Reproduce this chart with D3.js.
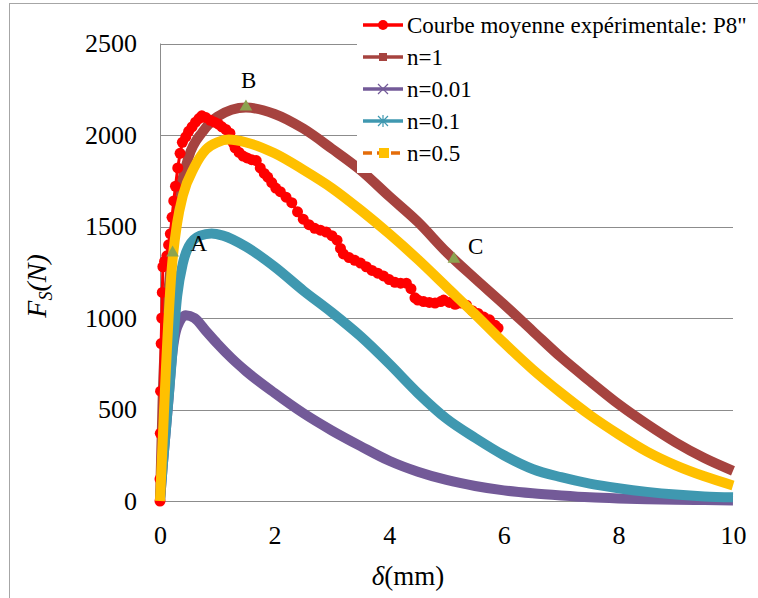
<!DOCTYPE html>
<html>
<head>
<meta charset="utf-8">
<script src="https://cdn.jsdelivr.net/npm/d3@7"></script>
<style>
  body { margin: 0; background: #fff; }
  svg text { font-family: "Liberation Serif", "Times New Roman", serif !important; }
</style>
</head>
<body>
<div id="chart"></div>
<script>
// tick labels
var xTicks = [0, 2, 4, 6, 8, 10];
var yTicks = [0, 500, 1000, 1500, 2000, 2500];

// experimental mean curve (delta mm, force N)
var expX = [0, 0, 0.005, 0.01, 0.02, 0.03, 0.04, 0.05, 0.08, 0.12, 0.15, 0.18, 0.21, 0.24, 0.27, 0.31, 0.35, 0.39, 0.45, 0.5,
  0.56, 0.62, 0.68, 0.73, 0.8, 0.88, 0.95, 1.02, 1.08, 1.15, 1.22, 1.27, 1.31, 1.38, 1.45, 1.52, 1.6, 1.68, 1.75, 1.82,
  1.88, 1.95, 2.02, 2.1, 2.2, 2.3, 2.4, 2.5, 2.6, 2.7, 2.8, 2.9, 3.0, 3.09, 3.15, 3.2, 3.3, 3.4, 3.5, 3.6,
  3.7, 3.8, 3.9, 4.0, 4.1, 4.2, 4.3, 4.38, 4.45, 4.5, 4.6, 4.7, 4.8, 4.9, 4.95, 5.05, 5.15, 5.25, 5.35, 5.45,
  5.55, 5.65, 5.75, 5.85, 5.9];
var expF = [0, 120, 370, 600, 860, 1000, 1140, 1280, 1310, 1340, 1400, 1460, 1550, 1640, 1720, 1820, 1900, 1960, 1990, 2020,
  2045, 2070, 2090, 2105, 2095, 2080, 2070, 2060, 2045, 2030, 2010, 1960, 1930, 1905, 1885, 1875, 1865, 1860, 1820, 1790,
  1770, 1740, 1710, 1690, 1660, 1630, 1580, 1540, 1510, 1490, 1480, 1470, 1450, 1425, 1380, 1350, 1330, 1315, 1300, 1280,
  1260, 1245, 1230, 1210, 1195, 1190, 1190, 1160, 1110, 1098, 1090, 1085, 1082, 1090, 1098, 1085, 1075, 1082, 1070, 1040,
  1025, 1005, 990, 960, 945];

// model curves
var n1X = [0, 0.05, 0.1, 0.2, 0.3, 0.5, 0.75, 1.0, 1.5, 2.0, 2.5, 3, 3.5, 4, 4.5, 5, 5.5, 6, 6.5, 7, 7.5, 8, 8.5, 9, 9.5, 10];
var n1F = [0, 600, 950, 1320, 1600, 1880, 2020, 2100, 2150, 2115, 2035, 1925, 1808, 1665, 1525, 1360, 1215, 1075, 930, 785, 655, 530, 420, 320, 235, 165];

var n001X = [0, 0.05, 0.1, 0.15, 0.2, 0.3, 0.45, 0.6, 0.8, 1.0, 1.25, 1.5, 2, 2.5, 3, 3.5, 4, 4.5, 5, 5.5, 6, 6.5, 7, 7.5, 8, 8.5, 9, 9.5, 10];
var n001F = [0, 200, 380, 560, 760, 950, 1015, 1000, 930, 860, 780, 710, 590, 480, 385, 300, 220, 160, 115, 82, 58, 42, 30, 20, 14, 10, 7, 5, 3];

var n01X = [0, 0.05, 0.1, 0.2, 0.3, 0.4, 0.5, 0.7, 0.9, 1.1, 1.5, 2, 2.5, 3, 3.5, 4, 4.5, 5, 5.5, 6, 6.5, 7, 7.5, 8, 8.5, 9, 9.5, 10];
var n01F = [0, 200, 380, 750, 1120, 1300, 1390, 1450, 1462, 1450, 1390, 1280, 1150, 1030, 900, 750, 590, 450, 345, 250, 175, 130, 95, 70, 50, 35, 25, 20];

var n05X = [0, 0.05, 0.1, 0.2, 0.3, 0.4, 0.6, 0.8, 1.0, 1.2, 1.5, 2, 2.5, 3, 3.5, 4, 4.5, 5, 5.5, 6, 6.5, 7, 7.5, 8, 8.5, 9, 9.5, 10];
var n05F = [0, 350, 700, 1250, 1520, 1670, 1825, 1920, 1960, 1975, 1960, 1900, 1810, 1710, 1590, 1460, 1320, 1170, 1020, 865, 720, 590, 470, 365, 270, 195, 135, 85];

// marked points A, B, C
var ptLabels = ["A", "B", "C"];
var ptX = [0.22, 1.5, 5.13];
var ptF = [1350, 2148, 1317];

var legendNames = ["Courbe moyenne expérimentale: P8\"", "n=1", "n=0.01", "n=0.1", "n=0.5"];

function init() {
    var w = 758;
    var h = 598;
    var serif = "'Liberation Serif', 'Times New Roman', serif";

    var svg = d3.select("#chart")
        .append("svg")
        .attr("width", w)
        .attr("height", h)
        .style("font-family", serif);

    // outer frame
    svg.append("rect")
        .attr("x", 9.5).attr("y", 3.5)
        .attr("width", w).attr("height", h)
        .attr("fill", "none")
        .attr("stroke", "#a6a6a6");

    var xScale = d3.scaleLinear().domain([0, 10]).range([160, 733]);
    var yScale = d3.scaleLinear().domain([0, 2500]).range([501, 43.5]);

    // gridlines
    svg.append("g").selectAll("line")
        .data(yTicks.filter(function(d) { return d > 0; }))
        .enter().append("line")
        .attr("x1", xScale(0)).attr("x2", xScale(10))
        .attr("y1", function(d) { return Math.round(yScale(d)) + 0.5; })
        .attr("y2", function(d) { return Math.round(yScale(d)) + 0.5; })
        .attr("stroke", "#8c8c8c");

    // axes lines
    svg.append("line")
        .attr("x1", xScale(0)).attr("x2", xScale(10))
        .attr("y1", Math.round(yScale(0)) + 0.5).attr("y2", Math.round(yScale(0)) + 0.5)
        .attr("stroke", "#8c8c8c");
    svg.append("line")
        .attr("x1", xScale(0) + 0.5).attr("x2", xScale(0) + 0.5)
        .attr("y1", yScale(2500)).attr("y2", yScale(0))
        .attr("stroke", "#8c8c8c");

    // tick labels via axes
    var xAxis = d3.axisBottom(xScale).tickValues(xTicks).tickFormat(d3.format("d")).tickSize(0).tickPadding(25);
    var gx = svg.append("g")
        .attr("transform", "translate(0," + yScale(0) + ")")
        .call(xAxis);
    var yAxis = d3.axisLeft(yScale).tickValues(yTicks).tickFormat(d3.format("d")).tickSize(0).tickPadding(23);
    var gy = svg.append("g")
        .attr("transform", "translate(" + xScale(0) + ",0)")
        .call(yAxis);
    [gx, gy].forEach(function(g) {
        g.attr("font-family", null).attr("font-size", null);
        g.select(".domain").remove();
        g.selectAll("text")
            .style("font-family", serif)
            .style("font-size", "26px")
            .attr("fill", "#000");
    });

    function series(xs, fs) {
        return xs.map(function(x, i) { return { x: x, f: fs[i] }; });
    }

    var smooth = d3.line()
        .x(function(d) { return xScale(d.x); })
        .y(function(d) { return yScale(d.f); })
        .curve(d3.curveMonotoneX);
    var straight = d3.line()
        .x(function(d) { return xScale(d.x); })
        .y(function(d) { return yScale(d.f); });

    function drawCurve(data, color) {
        svg.append("path")
            .datum(data)
            .attr("d", smooth)
            .attr("fill", "none")
            .attr("stroke", color)
            .attr("stroke-width", 10)
            .attr("stroke-linecap", "butt");
    }

    drawCurve(series(n001X, n001F), "#735a98");
    drawCurve(series(n01X, n01F), "#3f98b0");
    drawCurve(series(n1X, n1F), "#a6433f");

    // experimental curve
    var exp = series(expX, expF);
    svg.append("path")
        .datum(exp)
        .attr("d", straight)
        .attr("fill", "none")
        .attr("stroke", "#ff0000")
        .attr("stroke-width", 3);
    svg.append("g").selectAll("circle")
        .data(exp)
        .enter().append("circle")
        .attr("cx", function(d) { return xScale(d.x); })
        .attr("cy", function(d) { return yScale(d.f); })
        .attr("r", 5.5)
        .attr("fill", "#ff0000");

    drawCurve(series(n05X, n05F), "#ffc000");

    // triangles A B C
    var tri = d3.symbol().type(d3.symbolTriangle).size(70);
    var labelDx = [18, -5, 14];
    var labelDy = [-3, -20, -6];
    ptLabels.forEach(function(lab, i) {
        svg.append("path")
            .attr("d", tri)
            .attr("transform", "translate(" + xScale(ptX[i]) + "," + (yScale(ptF[i]) - 1) + ")")
            .attr("fill", "#8ca34f");
        svg.append("text")
            .attr("x", xScale(ptX[i]) + labelDx[i])
            .attr("y", yScale(ptF[i]) + labelDy[i])
            .style("font-size", "23px")
            .attr("fill", "#000")
            .text(lab);
    });

    // legend
    var lg = svg.append("g");
    lg.append("rect")
        .attr("x", 357).attr("y", 5)
        .attr("width", 401).attr("height", 168)
        .attr("fill", "#fff");
    var legY = [25, 57, 89, 121, 153];
    var legColors = ["#ff0000", "#a6433f", "#735a98", "#3f98b0", "#e46c0a"];
    legendNames.forEach(function(name, i) {
        var y = legY[i];
        lg.append("line")
            .attr("x1", 363).attr("x2", 403)
            .attr("y1", y).attr("y2", y)
            .attr("stroke", legColors[i])
            .attr("stroke-width", 3.5)
            .attr("stroke-dasharray", i === 4 ? "9,5" : null);
        if (i === 0) {
            lg.append("circle").attr("cx", 383).attr("cy", y).attr("r", 5).attr("fill", "#ff0000");
        } else if (i === 1) {
            lg.append("rect").attr("x", 379).attr("y", y - 4).attr("width", 8).attr("height", 8).attr("fill", "#a6433f");
        } else if (i === 2) {
            lg.append("path").attr("d", "M378," + (y - 5) + "L388," + (y + 5) + "M378," + (y + 5) + "L388," + (y - 5))
                .attr("stroke", "#735a98").attr("stroke-width", 1.2);
        } else if (i === 3) {
            lg.append("path").attr("d", "M378," + (y - 5) + "L388," + (y + 5) + "M378," + (y + 5) + "L388," + (y - 5) + "M383," + (y - 6) + "L383," + (y + 6))
                .attr("stroke", "#3f98b0").attr("stroke-width", 1.2);
        } else {
            lg.append("rect").attr("x", 379).attr("y", y - 5).attr("width", 10).attr("height", 10).attr("fill", "#ffc000");
        }
        lg.append("text")
            .attr("x", 407).attr("y", y + 8)
            .style("font-size", "23px")
            .attr("fill", "#000")
            .text(name);
    });

    // y axis title
    var yt = svg.append("text")
        .attr("transform", "translate(46,286) rotate(-90)")
        .attr("text-anchor", "middle")
        .style("font-size", "28px")
        .attr("font-style", "italic")
        .attr("fill", "#000");
    yt.append("tspan").text("F");
    yt.append("tspan").style("font-size", "18px").attr("dy", 6).text("S");
    yt.append("tspan").attr("dy", -6).text("(N)");

    // x axis title
    var xt = svg.append("text")
        .attr("x", 408).attr("y", 585)
        .attr("text-anchor", "middle")
        .style("font-size", "27px")
        .attr("fill", "#000");
    xt.append("tspan").attr("font-style", "italic").text("δ");
    xt.append("tspan").text("(mm)");
}
window.onload = init;
</script>
</body>
</html>
